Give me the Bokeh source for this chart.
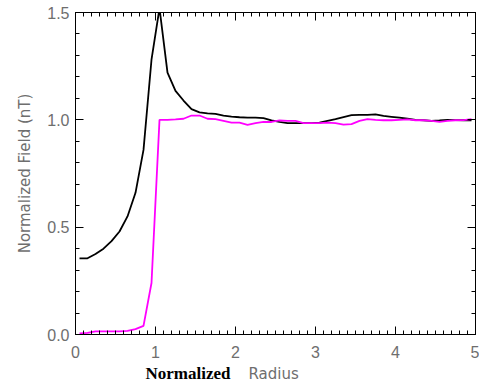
from bokeh.plotting import figure
from bokeh.models import LinearAxis, FixedTicker, Range1d, CustomJSTickFormatter
from bokeh.layouts import column
from bokeh.core.properties import value
from bokeh.embed import file_html
from bokeh.resources import INLINE

radius = [0.05, 0.15, 0.25, 0.35, 0.45, 0.55, 0.65, 0.75, 0.85, 0.95,
          1.05, 1.15, 1.25, 1.35, 1.45, 1.55, 1.65, 1.75, 1.85, 1.95,
          2.05, 2.15, 2.25, 2.35, 2.45, 2.55, 2.65, 2.75, 2.85, 2.95,
          3.05, 3.15, 3.25, 3.35, 3.45, 3.55, 3.65, 3.75, 3.85, 3.95,
          4.05, 4.15, 4.25, 4.35, 4.45, 4.55, 4.65, 4.75, 4.85, 4.95]

field_black = [0.355, 0.355, 0.375, 0.40, 0.435, 0.48, 0.55, 0.66, 0.86, 1.28,
               1.52, 1.22, 1.135, 1.09, 1.05, 1.035, 1.03, 1.028, 1.02, 1.015,
               1.012, 1.01, 1.01, 1.008, 0.998, 0.99, 0.985, 0.985, 0.985, 0.985,
               0.987, 0.995, 1.003, 1.013, 1.022, 1.023, 1.023, 1.025, 1.018, 1.014,
               1.01, 1.005, 1.0, 0.998, 0.995, 0.997, 1.0, 0.999, 0.998, 0.998]

field_magenta = [0.005, 0.008, 0.015, 0.015, 0.015, 0.015, 0.017, 0.025, 0.04, 0.24,
                 1.0, 1.0, 1.002, 1.005, 1.02, 1.02, 1.005, 1.003, 0.995, 0.987,
                 0.987, 0.977, 0.985, 0.99, 0.99, 0.997, 0.995, 0.995, 0.985, 0.985,
                 0.985, 0.987, 0.985, 0.978, 0.98, 0.995, 1.003, 1.0, 0.998, 0.998,
                 1.0, 1.002, 0.998, 0.998, 0.995, 0.99, 0.995, 0.998, 0.999, 1.003]

x_ticks = [0, 1, 2, 3, 4, 5]
y_ticks = [0.0, 0.5, 1.0, 1.5]
x_minor = [i / 10 for i in range(0, 51)]
y_minor = [i / 10 for i in range(0, 16)]

x_title_words = ["Normalized", "Radius"]
x_title_pos = [0.875, 2.1625]

p = figure(width=479, height=364, output_backend="svg", toolbar_location=None,
           x_range=Range1d(0, 5), y_range=Range1d(0, 1.5),
           min_border_left=75, min_border_right=4, min_border_top=12, min_border_bottom=30)
p.grid.visible = False
p.outline_line_color = "black"
p.background_fill_color = "white"
p.border_fill_color = "white"

p.line(radius, field_black, line_color="black", line_width=1.8)
p.line(radius, field_magenta, line_color="#ff00ff", line_width=1.8)

label_color = "#6e6e6e"

def style(ax, ticks, minor, show_labels):
    ax.ticker = FixedTicker(ticks=ticks, minor_ticks=minor)
    ax.major_tick_in = 8
    ax.major_tick_out = 0
    ax.minor_tick_in = 4
    ax.minor_tick_out = 0
    ax.axis_line_color = "black"
    ax.major_tick_line_color = "black"
    ax.minor_tick_line_color = "black"
    if show_labels:
        ax.major_label_text_font = "Liberation Sans"
        ax.major_label_text_font_size = "16px"
        ax.major_label_text_color = label_color
    else:
        ax.major_label_text_font_size = "0px"
        ax.major_label_standoff = 0
        ax.axis_label_standoff = 0

xa = p.xaxis[0]
style(xa, x_ticks, x_minor, True)
xa.major_label_standoff = 11
xa.axis_label = None

ya = p.yaxis[0]
style(ya, y_ticks, y_minor, True)
ya.formatter = CustomJSTickFormatter(code="return tick.toFixed(1);")
ya.major_label_standoff = 6
ya.axis_label = "Normalized Field (nT)"
ya.axis_label_text_font = "DejaVu Sans"
ya.axis_label_text_font_style = "normal"
ya.axis_label_text_font_size = "15px"
ya.axis_label_text_color = label_color
ya.axis_label_standoff = 10

ra = LinearAxis()
style(ra, y_ticks, y_minor, False)
p.add_layout(ra, "right")
ta = LinearAxis()
style(ta, x_ticks, x_minor, False)
p.add_layout(ta, "above")

# strip below the plot holding the mixed-font x-axis title (frame aligned with p)
q = figure(width=479, height=19, output_backend="svg", toolbar_location=None,
           x_range=Range1d(0, 5), y_range=Range1d(0, 19),
           x_axis_location=None, y_axis_location=None,
           min_border_left=75, min_border_right=4,
           min_border_top=0, min_border_bottom=0)
q.grid.visible = False
q.outline_line_color = None
q.border_fill_color = "white"
q.background_fill_color = "white"
q.text(x=[x_title_pos[0]], y=[10], text=[x_title_words[0]], text_font=value("Liberation Serif"),
       text_font_style="bold", text_font_size="17px", text_color="black",
       text_baseline="alphabetic", text_align="left")
q.text(x=[x_title_pos[1]], y=[10], text=[x_title_words[1]], text_font=value("DejaVu Sans"),
       text_font_size="15px", text_color=label_color,
       text_baseline="alphabetic", text_align="left")

layout = column(p, q, spacing=0)
open("out.html", "w").write(file_html(layout, INLINE))
